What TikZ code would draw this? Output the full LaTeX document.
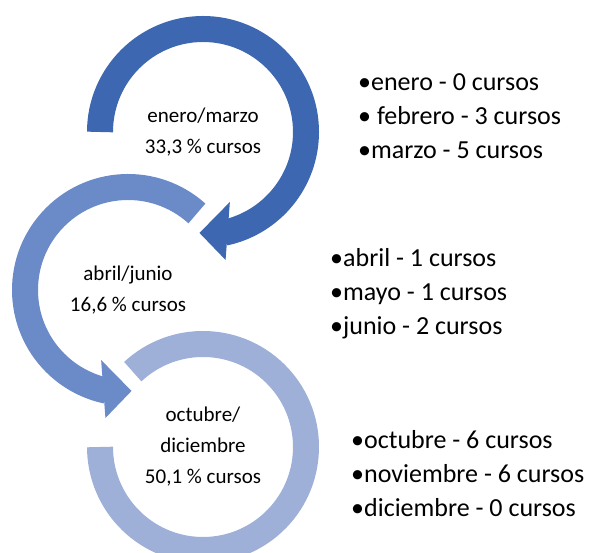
\documentclass[tikz,border=0pt]{standalone}
\usepackage{fontspec}
\setmainfont{Carlito}
\usepackage{tikz}
\usetikzlibrary{calc}
\definecolor{janmar}{RGB}{61,104,177}
\definecolor{abrjun}{RGB}{107,138,200}
\definecolor{octdic}{RGB}{158,176,216}
\tikzset{
	ring/.style={line width=26pt},
	centro/.style={align=center,inner sep=0pt,font=\fontsize{21}{31}\selectfont},
	lista/.style={anchor=base west,inner sep=0pt,font=\fontsize{26}{34}\selectfont}
}

\begin{document}
\begin{tikzpicture}[x=1pt,y=1pt]
		\useasboundingbox (0,0) rectangle (592,553);
		\clip (0,0) rectangle (592,553);
		\coordinate (c1) at (203,421);
		\coordinate (c2) at (128,263);
		\coordinate (c3) at (203,106);
		% enero/marzo
		\draw[ring,janmar] ($(c1)+(180:103)$) arc[start angle=180,end angle=-78,radius=103];
		\fill[janmar] ($(c1)+(-69:75)$) -- ($(c1)+(-80:130)$) -- ($(c1)+(-92:101)$) -- cycle;
		% abril/junio
		\draw[ring,abrjun] ($(c2)+(48:103)$) arc[start angle=48,end angle=258,radius=103];
		\fill[abrjun] ($(c2)+(249:75)$) -- ($(c2)+(260:130)$) -- ($(c2)+(272:101)$) -- cycle;
		% octubre/diciembre
		\draw[ring,octdic] ($(c3)+(133:103)$) arc[start angle=133,end angle=-180,radius=103];
		%		\fill[octdic] ($(c3)+(190:75)$) -- ($(c3)+(200:130)$) -- ($(c3)+(212:101)$) -- cycle;
		\node[centro] (tene) at (c1) {enero/marzo\\33,3 \% cursos};
		\node[centro] (tabr) at (c2) {abril/junio\\16,6 \% cursos};
		\node[centro] (toct) at (c3) {octubre/\\diciembre\\50,1 \% cursos};
		\foreach \txt [count=\i] in {•enero - 0 cursos,• febrero - 3 cursos,•marzo - 5 cursos}
		\node[lista] (ene\i) at (358,{462-34*(\i-1)}) {\txt};
		\foreach \txt [count=\i] in {•abril - 1 cursos,•mayo - 1 cursos,•junio - 2 cursos}
		\node[lista] (abr\i) at (330,{286-34*(\i-1)}) {\txt};
		\foreach \txt [count=\i] in {•octubre - 6 cursos,•noviembre - 6 cursos,•diciembre - 0 cursos}
		\node[lista] (oct\i) at (351,{104-34*(\i-1)}) {\txt};
	\end{tikzpicture}
\end{document}
